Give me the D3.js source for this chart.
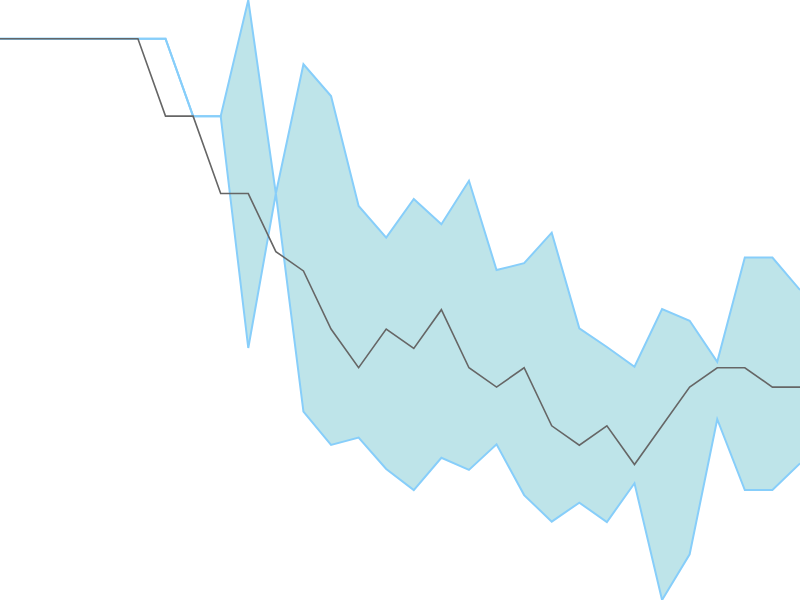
<!DOCTYPE html>
<html>
<head>
<meta charset="utf-8">
<script src="https://cdn.jsdelivr.net/npm/d3@7"></script>
<style>
  html, body { margin: 0; padding: 0; background: #fff; overflow: hidden; }
</style>
</head>
<body>
<div id="chart"></div>
<script>
// band (upper / lower) and the middle line, one value per step
const steps = d3.range(30)
const upper = [29, 29, 29, 29, 29, 29, 29, 25, 25, 31, 21, 27.68, 26.04, 20.36, 18.72,
  20.72, 19.41, 21.66, 17.05, 17.4, 18.98, 14.04, 13.07, 12.05, 15.03, 14.43, 12.31, 17.69, 17.69, 16.02]
const lower = [29, 29, 29, 29, 29, 29, 29, 25, 25, 13.02, 21, 9.73, 8.01, 8.39, 6.77,
  5.68, 7.35, 6.72, 8.04, 5.42, 4.05, 5.03, 4.03, 6.03, 0, 2.36, 9.34, 5.68, 5.68, 7.06]
const middle = [29, 29, 29, 29, 29, 29, 25, 25, 21, 21, 18, 17, 14, 12, 14,
  13, 15, 12, 11, 12, 9, 8, 9, 7, 9, 11, 12, 12, 11, 11]

const width = 800
const height = 600

const svg = d3.select("#chart")
    .append("svg")
    .attr("width", width)
    .attr("height", height)
    .attr("viewBox", [0, 0, width, height])

const xScale = d3.scaleLinear([0, steps.length - 1], [0, width])
const yScale = d3.scaleLinear([d3.min(lower), d3.max(upper)], [height, 0])

// 区域
const area = d3.area()
    .x(i => xScale(i))
    .y0(i => yScale(lower[i]))
    .y1(i => yScale(upper[i]))

svg.append("path")
    .datum(steps)
    .attr("fill", "#bee4e9")
    .attr("d", area)

// 上下边界
const edge = (arr) => d3.line()
    .x(i => xScale(i))
    .y(i => yScale(arr[i]))

;[upper, lower].forEach(arr => {
  svg.append("path")
      .datum(steps)
      .attr("fill", "none")
      .attr("stroke", "#87cefa")
      .attr("stroke-width", 2)
      .attr("d", edge(arr))
})

// 中线
svg.append("path")
    .datum(steps)
    .attr("fill", "none")
    .attr("stroke", "#666")
    .attr("stroke-width", 1.6)
    .attr("d", edge(middle))
</script>
</body>
</html>
